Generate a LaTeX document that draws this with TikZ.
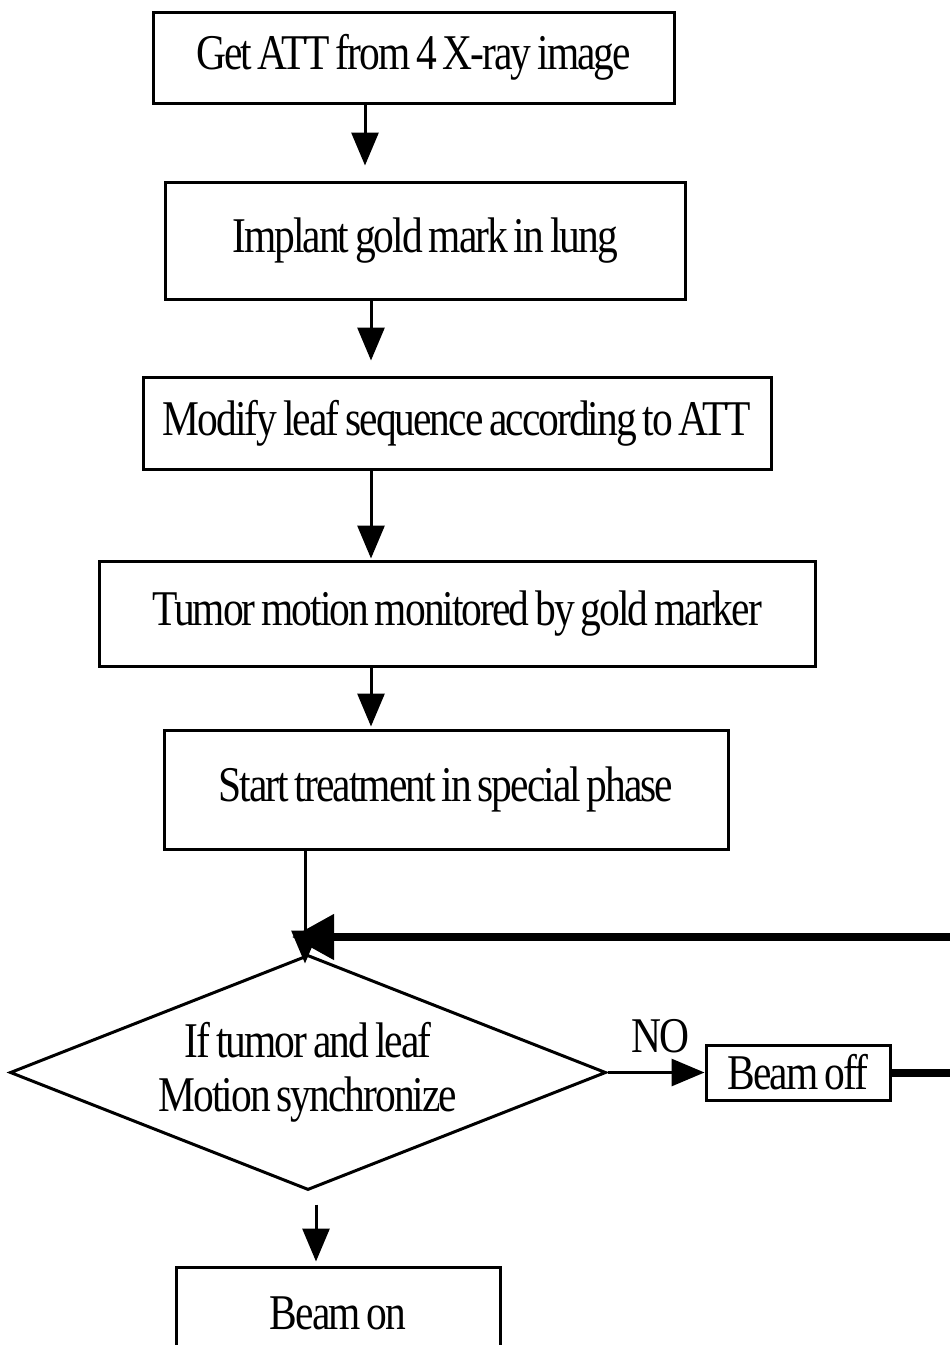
\documentclass[tikz,border=0pt]{standalone}
\usepackage{fontspec}
\setmainfont{Liberation Serif}[FakeStretch=0.83,LetterSpace=-4,WordSpace=0.7]
\usetikzlibrary{arrows.meta,shapes.geometric}
\begin{document}
\begin{tikzpicture}[x=1pt,y=-1pt,
  txt/.style={font=\fontsize{50}{54}\selectfont},
  stepbox/.style={draw,line width=3pt,inner sep=0pt,txt,align=center},
  decision/.style={diamond,aspect=2.5,draw,line width=3pt,inner sep=0pt,txt,align=center},
  flow/.style={line width=3pt,-{Triangle[length=33pt,width=27pt]}},
  loopback/.style={line width=8pt,-{Triangle[length=42pt,width=44pt]}}]
  \useasboundingbox (0,0) rectangle (950,1345);
  \fill[white] (0,0) rectangle (950,1345);
  \clip (0,0) rectangle (950,1345);

  % process steps
  \node[stepbox,minimum width=521pt,minimum height=91pt] (b1) at (413.5,57.5) {Get ATT from 4 X-ray image};
  \node[stepbox,minimum width=520pt,minimum height=117pt] (b2) at (425,240.5) {Implant gold mark in lung};
  \node[stepbox,minimum width=628pt,minimum height=92pt] (b3) at (457,423) {Modify leaf sequence according to ATT};
  \node[stepbox,minimum width=716pt,minimum height=105pt] (b4) at (457,613.5) {Tumor motion monitored by gold marker};
  \node[stepbox,minimum width=564pt,minimum height=119pt] (b5) at (446,789.5) {Start treatment in special phase};

  % synchronisation check and its outcomes
  \node[decision,minimum width=596pt,minimum height=235pt] (dec) at (308,1072.5) {If tumor and leaf\\Motion synchronize};
  \node[stepbox,minimum width=184pt,minimum height=55pt] (boff) at (798,1072.5) {Beam off};
  \node[stepbox,minimum width=324pt,minimum height=92pt] (bon) at (338,1313) {Beam on};
  \node[txt,inner sep=0pt] (no) at (660,1036) {NO};

  % helper columns for the vertical connectors
  \coordinate (c1) at (365,0);
  \coordinate (c2) at (371,0);
  \coordinate (c5) at (305,0);
  \coordinate (c6) at (316,0);
  \coordinate (j) at (292,937);
  \coordinate (loopR) at (1000,0);

  \draw[flow,shorten >=15pt] (b1.south -| c1) -- (b2.north -| c1);
  \draw[flow,shorten >=15pt] (b2.south -| c2) -- (b3.north -| c2);
  \draw[flow,shorten >=1pt] (b3.south -| c2) -- (b4.north -| c2);
  \draw[flow,shorten >=2pt] (b4.south -| c2) -- (b5.north -| c2);
  \draw[flow,shorten >=-10pt] (b5.south -| c5) -- (dec.north -| c5);
  \draw[flow] (dec.east) -- (boff.west);
  \draw[flow,shorten <=13pt,shorten >=4pt] (dec.south -| c6) -- (bon.north -| c6);

  % loop back from beam off to the check
  \draw[loopback] (boff.east) -- (loopR |- boff.east) -- (loopR |- j) -- (j);
\end{tikzpicture}
\end{document}
